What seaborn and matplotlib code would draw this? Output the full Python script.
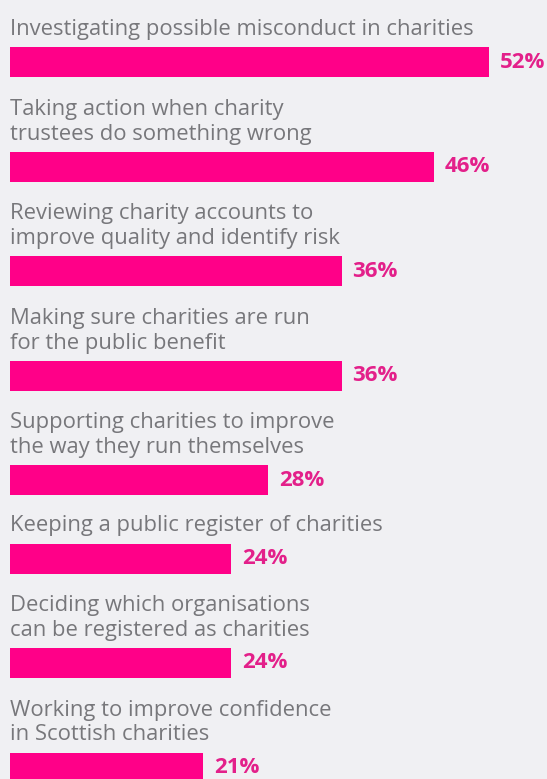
import matplotlib
matplotlib.use("Agg")
import matplotlib.pyplot as plt
import seaborn as sns
import pandas as pd
import numpy as np

# datos del grafico
etiquetas = [
    "Investigating possible misconduct in charities",
    "Taking action when charity\ntrustees do something wrong",
    "Reviewing charity accounts to\nimprove quality and identify risk",
    "Making sure charities are run\nfor the public benefit",
    "Supporting charities to improve\nthe way they run themselves",
    "Keeping a public register of charities",
    "Deciding which organisations\ncan be registered as charities",
    "Working to improve confidence\nin Scottish charities",
]
valores = [52, 46, 36, 36, 28, 24, 24, 21]

sns.set_theme(style="white")
plt.rcParams["font.family"] = ["Open Sans", "DejaVu Sans"]

fondo = "#f0f0f3"
rosa = "#ff0088"
rosa_texto = "#e3208a"
gris = "#77777b"

# layout en pixeles (eje y) y en % (eje x)
px_por_pct = 9.21
alto_barra = 30
n_lineas = [e.count("\n") + 1 for e in etiquetas]
centros = [62.0]
for n in n_lineas[1:]:
    centros.append(centros[-1] + 52.5 + 26 * n)

df = pd.DataFrame({"tema": etiquetas, "valor": valores, "pos": centros})

fig = plt.figure(figsize=(5.47, 7.79), dpi=100, facecolor=fondo)
ax = fig.add_axes([0, 0, 1, 1])
ax.set_facecolor(fondo)

paso_min = min(np.diff(centros))
sns.barplot(data=df, x="valor", y="pos", orient="y", native_scale=True,
            width=alto_barra / paso_min, color=rosa, saturation=1,
            edgecolor="none", ax=ax)

ax.set_xlim(-10 / px_por_pct, (547 - 10) / px_por_pct)
ax.set_ylim(779, 0)

for i, fila in df.iterrows():
    tope = fila["pos"] - alto_barra / 2
    ax.text(0, tope - 7, fila["tema"], ha="left", va="bottom",
            fontsize=15.8, color=gris, linespacing=1.22)
    ax.text(fila["valor"] + 1.2, fila["pos"], f"{fila['valor']}%",
            ha="left", va="center", fontsize=16, fontweight="bold",
            color=rosa_texto)

ax.set_axis_off()
fig.savefig("out.png", dpi=100, facecolor=fondo)
